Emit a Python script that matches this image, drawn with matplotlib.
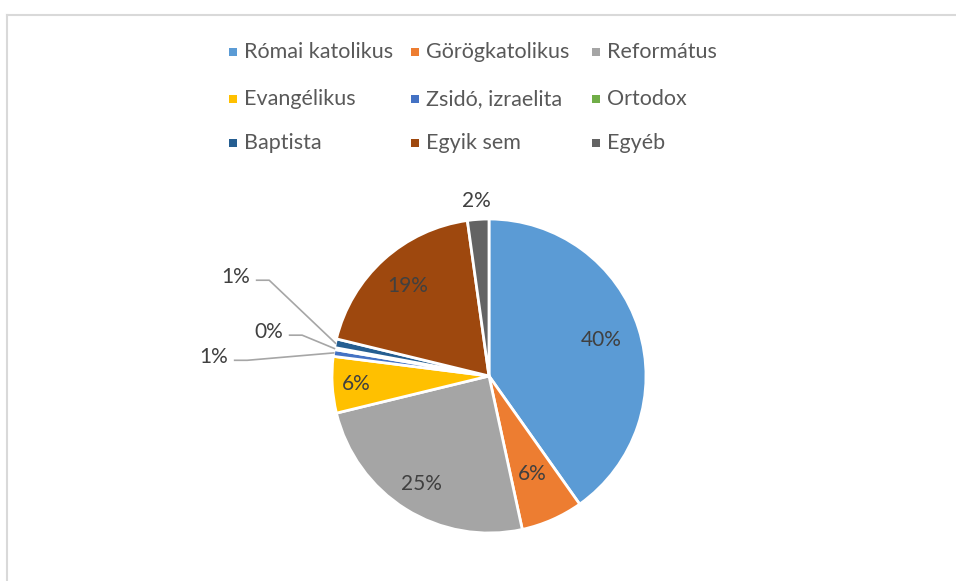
import matplotlib.pyplot as plt
from matplotlib.lines import Line2D
from matplotlib.patches import Rectangle
import numpy as np

# Adatok
labels = ["Római katolikus", "Görögkatolikus", "Református", "Evangélikus",
          "Zsidó, izraelita", "Ortodox", "Baptista", "Egyik sem", "Egyéb"]
values = [40.2, 6.4, 24.6, 5.8, 0.7, 0.2, 0.9, 19.0, 2.2]
colors = ["#5B9BD5", "#ED7D31", "#A5A5A5", "#FFC000", "#4472C4",
          "#70AD47", "#255E91", "#9E480E", "#636363"]

# cimke elhelyezes (sugar aranya), None = vezetovonallal
label_r = [0.75, 0.68, 0.81, 0.85, None, None, None, 0.77, 1.12]
# vezetovonalas cimkek szovegpozicioja (egyseg = sugar)
leader_pos = {4: (-1.66, 0.12), 5: (-1.31, 0.28), 6: (-1.52, 0.63)}

plt.rcParams['font.family'] = ['Lato', 'DejaVu Sans']

W, H = 956, 581
fig = plt.figure(figsize=(W / 100, H / 100), dpi=100)

# keret (csak bal es felso)
fig.add_artist(Line2D([7 / W, 7 / W], [0, 1 - 15 / H], color="#D9D9D9", lw=1.5))
fig.add_artist(Line2D([7 / W, 1], [1 - 15 / H, 1 - 15 / H], color="#D9D9D9", lw=1.5))

# tengely ugy, hogy a kor kozeppontja (489, 376) px, sugara 157 px
cx, cy, R = 489, 376, 157
x0, x1, ytop, ybot = 160, 820, 170, 570
ax = fig.add_axes([x0 / W, (H - ybot) / H, (x1 - x0) / W, (ybot - ytop) / H])

wedges, _ = ax.pie(values, colors=colors, startangle=90, counterclock=False,
                   radius=1, wedgeprops=dict(edgecolor="white", linewidth=2))
ax.set_xlim((x0 - cx) / R, (x1 - cx) / R)
ax.set_ylim((cy - ybot) / R, (cy - ytop) / R)
ax.set_aspect("auto")
ax.axis("off")

total = sum(values)
for i, w in enumerate(wedges):
    mid = np.deg2rad((w.theta1 + w.theta2) / 2)
    txt = f"{round(values[i] / total * 100):.0f}%"
    if label_r[i] is not None:
        r = label_r[i]
        ax.text(r * np.cos(mid), r * np.sin(mid), txt, ha="center", va="center",
                fontsize=15, color="#404040")
    else:
        tx, ty = leader_pos[i]
        ex, ey = np.cos(mid), np.sin(mid)
        ax.text(tx, ty, txt, ha="right", va="center", fontsize=15, color="#404040")
        ax.plot([tx + 0.04, tx + 0.12, ex], [ty - 0.02, ty - 0.02, ey],
                color="#A6A6A6", lw=1.2)

# jelmagyarazat
col_x = [233, 415, 596]
row_y = [52, 99, 143]
for i, (lab, c) in enumerate(zip(labels, colors)):
    row, col = divmod(i, 3)
    mx, my = col_x[col], row_y[row]
    fig.add_artist(Rectangle(((mx - 4) / W, (H - my - 4) / H), 8 / W, 8 / H,
                             facecolor=c, edgecolor="none"))
    fig.text((mx + 11) / W, (H - my) / H, lab, ha="left", va="center",
             fontsize=15.5, color="#595959")

fig.savefig("out.png", dpi=100)
